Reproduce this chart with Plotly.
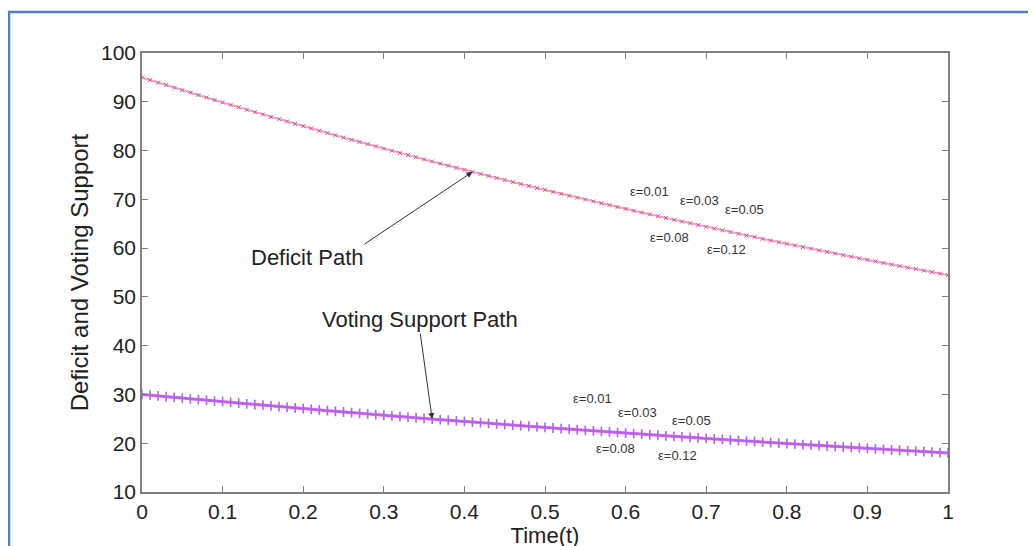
import plotly.graph_objects as go

time_t = [0.00, 0.01, 0.02, 0.03, 0.04, 0.05, 0.06, 0.07, 0.08, 0.09,
          0.10, 0.11, 0.12, 0.13, 0.14, 0.15, 0.16, 0.17, 0.18, 0.19,
          0.20, 0.21, 0.22, 0.23, 0.24, 0.25, 0.26, 0.27, 0.28, 0.29,
          0.30, 0.31, 0.32, 0.33, 0.34, 0.35, 0.36, 0.37, 0.38, 0.39,
          0.40, 0.41, 0.42, 0.43, 0.44, 0.45, 0.46, 0.47, 0.48, 0.49,
          0.50, 0.51, 0.52, 0.53, 0.54, 0.55, 0.56, 0.57, 0.58, 0.59,
          0.60, 0.61, 0.62, 0.63, 0.64, 0.65, 0.66, 0.67, 0.68, 0.69,
          0.70, 0.71, 0.72, 0.73, 0.74, 0.75, 0.76, 0.77, 0.78, 0.79,
          0.80, 0.81, 0.82, 0.83, 0.84, 0.85, 0.86, 0.87, 0.88, 0.89,
          0.90, 0.91, 0.92, 0.93, 0.94, 0.95, 0.96, 0.97, 0.98, 0.99, 1.00]

deficit = [95.00, 94.47, 93.95, 93.43, 92.91, 92.39, 91.88, 91.37, 90.87, 90.36,
           89.86, 89.36, 88.87, 88.37, 87.88, 87.39, 86.91, 86.43, 85.95, 85.47,
           85.00, 84.53, 84.06, 83.59, 83.13, 82.67, 82.21, 81.75, 81.30, 80.85,
           80.40, 79.95, 79.51, 79.07, 78.63, 78.19, 77.76, 77.33, 76.90, 76.47,
           76.05, 75.63, 75.21, 74.79, 74.38, 73.96, 73.55, 73.14, 72.74, 72.34,
           71.94, 71.54, 71.14, 70.74, 70.35, 69.96, 69.58, 69.19, 68.81, 68.42,
           68.04, 67.66, 67.29, 66.92, 66.55, 66.18, 65.81, 65.44, 65.08, 64.72,
           64.36, 64.00, 63.65, 63.30, 62.95, 62.60, 62.25, 61.90, 61.56, 61.22,
           60.88, 60.54, 60.21, 59.87, 59.54, 59.21, 58.88, 58.55, 58.23, 57.91,
           57.59, 57.27, 56.95, 56.63, 56.32, 56.01, 55.70, 55.39, 55.08, 54.77, 54.47]

voting = [30.00, 29.85, 29.69, 29.54, 29.39, 29.24, 29.09, 28.94, 28.80, 28.65,
          28.51, 28.36, 28.22, 28.07, 27.93, 27.79, 27.65, 27.50, 27.36, 27.22,
          27.09, 26.95, 26.81, 26.67, 26.54, 26.40, 26.27, 26.13, 26.00, 25.87,
          25.74, 25.61, 25.48, 25.35, 25.22, 25.09, 24.96, 24.83, 24.71, 24.58,
          24.46, 24.33, 24.21, 24.08, 23.96, 23.84, 23.72, 23.60, 23.48, 23.36,
          23.24, 23.12, 23.00, 22.88, 22.77, 22.65, 22.54, 22.42, 22.31, 22.19,
          22.08, 21.97, 21.86, 21.74, 21.63, 21.52, 21.41, 21.30, 21.20, 21.09,
          20.98, 20.87, 20.77, 20.66, 20.56, 20.45, 20.35, 20.24, 20.14, 20.04,
          19.94, 19.83, 19.73, 19.63, 19.53, 19.43, 19.33, 19.23, 19.14, 19.04,
          18.94, 18.84, 18.75, 18.65, 18.56, 18.46, 18.37, 18.27, 18.18, 18.09, 18.00]

eps_labels = ["ε=0.01", "ε=0.03", "ε=0.05", "ε=0.08", "ε=0.12"]
eps_deficit_t = [0.630, 0.692, 0.747, 0.654, 0.725]
eps_deficit_v = [71.7, 69.7, 68.0, 62.1, 59.8]
eps_voting_t = [0.559, 0.615, 0.682, 0.588, 0.664]
eps_voting_v = [29.1, 26.4, 24.6, 19.0, 17.4]

x_ticks = [0, 0.1, 0.2, 0.3, 0.4, 0.5, 0.6, 0.7, 0.8, 0.9, 1]
x_tick_text = ["0", "0.1", "0.2", "0.3", "0.4", "0.5", "0.6", "0.7", "0.8", "0.9", "1"]
y_ticks = [10, 20, 30, 40, 50, 60, 70, 80, 90, 100]

FONT = "Arial, Liberation Sans, sans-serif"
TXT = "#222222"

fig = go.Figure()

# Deficit path
fig.add_trace(go.Scatter(
    x=time_t, y=deficit, mode="lines",
    line=dict(color="#dc9ff0", width=2), hoverinfo="skip", showlegend=False))
fig.add_trace(go.Scatter(
    x=time_t, y=deficit, mode="markers",
    marker=dict(symbol="x-thin-open", size=4, line=dict(color="#6e3f8c", width=1)),
    showlegend=False))

# Voting support path
fig.add_trace(go.Scatter(
    x=time_t, y=voting, mode="lines",
    line=dict(color="#f062d6", width=3), hoverinfo="skip", showlegend=False))
fig.add_trace(go.Scatter(
    x=time_t, y=voting, mode="markers",
    marker=dict(symbol="cross-thin-open", size=7, line=dict(color="#b82c8e", width=1.6)),
    showlegend=False))

annotations = []
for lab, t, v in zip(eps_labels, eps_deficit_t, eps_deficit_v):
    annotations.append(dict(x=t, y=v, xref="x", yref="y", text=lab, showarrow=False,
                            font=dict(family=FONT, size=13, color="#333333")))
for lab, t, v in zip(eps_labels, eps_voting_t, eps_voting_v):
    annotations.append(dict(x=t, y=v, xref="x", yref="y", text=lab, showarrow=False,
                            font=dict(family=FONT, size=13, color="#333333")))

# Path labels
annotations.append(dict(x=0.205, y=58.0, xref="x", yref="y", text="Deficit Path",
                        showarrow=False, font=dict(family=FONT, size=22, color=TXT)))
annotations.append(dict(x=0.345, y=45.3, xref="x", yref="y", text="Voting Support Path",
                        showarrow=False, font=dict(family=FONT, size=22, color=TXT)))
# Arrows
annotations.append(dict(x=0.41, y=75.63, ax=0.274, ay=60.6, xref="x", yref="y",
                        axref="x", ayref="y", text="", showarrow=True,
                        arrowhead=2, arrowsize=1.2, arrowwidth=1, arrowcolor="#333333"))
annotations.append(dict(x=0.36, y=24.96, ax=0.345, ay=42.8, xref="x", yref="y",
                        axref="x", ayref="y", text="", showarrow=True,
                        arrowhead=2, arrowsize=1.2, arrowwidth=1, arrowcolor="#333333"))

fig.update_layout(
    width=1036, height=546,
    margin=dict(l=134, r=96, t=45, b=62),
    paper_bgcolor="white", plot_bgcolor="white",
    font=dict(family=FONT, color=TXT),
    annotations=annotations,
    shapes=[dict(type="rect", xref="paper", yref="paper",
                 x0=-0.165, x1=1.3, y0=-0.3, y1=1.0934,
                 line=dict(color="#4f81bd", width=2.5), fillcolor="rgba(0,0,0,0)",
                 layer="below")],
)
fig.update_xaxes(
    range=[0, 1], tickvals=x_ticks, ticktext=x_tick_text,
    showgrid=False, zeroline=False, showline=True, linecolor="#808080", linewidth=1.5,
    mirror="ticks", ticks="inside", ticklen=6, tickcolor="#808080",
    tickfont=dict(family=FONT, size=21, color=TXT),
    title=dict(text="Time(t)", font=dict(family=FONT, size=22, color=TXT), standoff=0),
)
fig.update_yaxes(
    range=[10, 100], tickvals=y_ticks,
    showgrid=False, zeroline=False, showline=True, linecolor="#808080", linewidth=1.5,
    mirror="ticks", ticks="inside", ticklen=6, tickcolor="#808080",
    tickfont=dict(family=FONT, size=21, color=TXT),
    title=dict(text="Deficit and Voting Support", font=dict(family=FONT, size=24, color=TXT),
               standoff=6),
)

fig.write_html("out.html")
